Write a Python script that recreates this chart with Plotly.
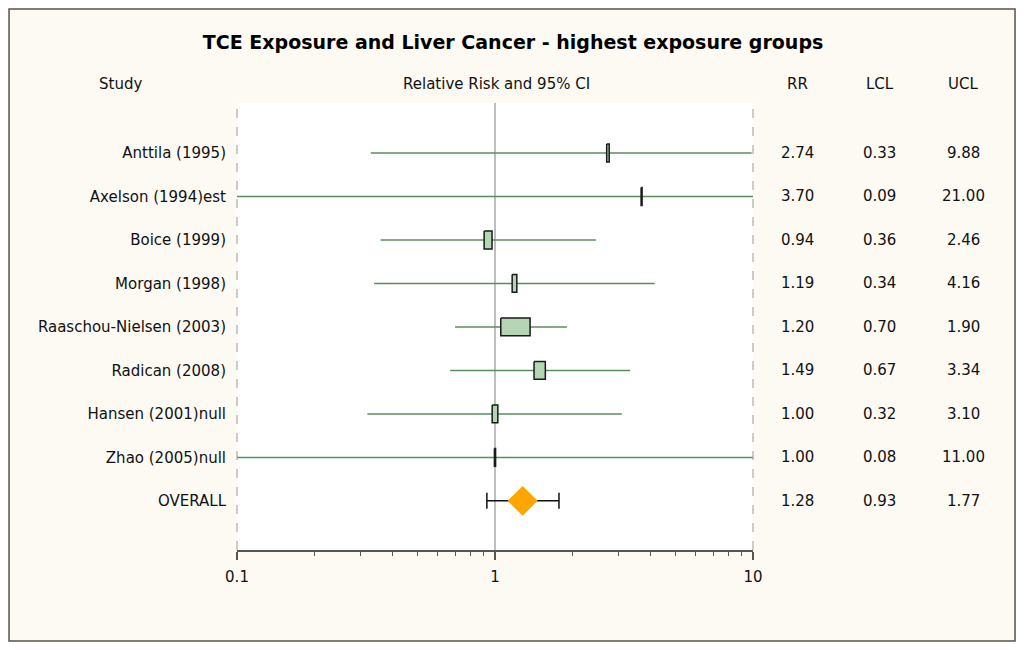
import math
import plotly.graph_objects as go

# study level estimates (relative risk and 95% CI)
studies = ["Anttila (1995)", "Axelson (1994)est", "Boice (1999)", "Morgan (1998)",
           "Raaschou-Nielsen (2003)", "Radican (2008)", "Hansen (2001)null", "Zhao (2005)null"]
rr = [2.74, 3.70, 0.94, 1.19, 1.20, 1.49, 1.00, 1.00]
lcl = [0.33, 0.09, 0.36, 0.34, 0.70, 0.67, 0.32, 0.08]
ucl = [9.88, 21.00, 2.46, 4.16, 1.90, 3.34, 3.10, 11.00]

# pooled estimate
overall_label = "OVERALL"
overall_rr = 1.28
overall_lcl = 0.93
overall_ucl = 1.77

x_ticks = [0.1, 1, 10]
col_headers = ["RR", "LCL", "UCL"]

FONT = "DejaVu Sans"
rows = list(range(1, len(studies) + 1))
overall_row = len(studies) + 1

fig = go.Figure()

# confidence interval lines
ci_x, ci_y = [], []
for r, lo, hi in zip(rows, lcl, ucl):
    ci_x += [lo, hi, None]
    ci_y += [r, r, None]
fig.add_trace(go.Scatter(x=ci_x, y=ci_y, mode="lines",
                         line=dict(color="#5a8e5a", width=1.5),
                         hoverinfo="skip", showlegend=False))

# boxes sized by inverse variance weight
box_x, box_y = [], []
for r, est, lo, hi in zip(rows, rr, lcl, ucl):
    se = (math.log(hi) - math.log(lo)) / 3.92
    w = 1 / se ** 2
    hw = 0.95 * w / 258  # half width in log10 units
    c = math.log10(est)
    x0, x1 = 10 ** (c - hw), 10 ** (c + hw)
    box_x += [x0, x1, x1, x0, x0, None]
    box_y += [r - 0.205, r - 0.205, r + 0.205, r + 0.205, r - 0.205, None]
fig.add_trace(go.Scatter(x=box_x, y=box_y, mode="lines", fill="toself",
                         fillcolor="#b4d6b4", line=dict(color="#1a1a1a", width=1.5),
                         hoverinfo="skip", showlegend=False))

# overall estimate
fig.add_trace(go.Scatter(
    x=[overall_rr], y=[overall_row], mode="markers",
    marker=dict(symbol="diamond", size=23, color="#ffa500", line=dict(width=0)),
    error_x=dict(type="data", symmetric=False,
                 array=[overall_ucl - overall_rr],
                 arrayminus=[overall_rr - overall_lcl],
                 color="#111111", thickness=1.5, width=8),
    hoverinfo="skip", showlegend=False))

shapes = [
    # outer frame
    dict(type="rect", xref="paper", yref="paper", x0=-0.4418, x1=1.5078, y0=-0.2036, y1=1.2105,
         fillcolor="#fcfaf3", line=dict(color="#5a5248", width=1.5), layer="below"),
    # white plotting region
    dict(type="rect", xref="paper", yref="paper", x0=0, x1=1, y0=0, y1=1,
         fillcolor="white", line=dict(width=0), layer="below"),
    # null line at RR = 1, behind the marks
    dict(type="line", xref="x", yref="paper", x0=1, x1=1, y0=0, y1=1,
         line=dict(color="#a8a8a8", width=1.5), layer="below"),
    # dashed side borders
    dict(type="line", xref="paper", yref="paper", x0=0, x1=0, y0=0, y1=1,
         line=dict(color="#9a9a9a", width=1, dash="dash")),
    dict(type="line", xref="paper", yref="paper", x0=1, x1=1, y0=0, y1=1,
         line=dict(color="#9a9a9a", width=1, dash="dash")),
]

annotations = []
hdr_y = 1.0425
hdr_font = dict(family=FONT, size=15, color="#111")
annotations.append(dict(text="Study", x=-0.2267, y=hdr_y, xref="paper", yref="paper",
                        xanchor="center", yanchor="middle", showarrow=False, font=hdr_font))
annotations.append(dict(text="Relative Risk and 95% CI", x=0.502, y=hdr_y, xref="paper", yref="paper",
                        xanchor="center", yanchor="middle", showarrow=False, font=hdr_font))
col_x = [1.0872, 1.2461, 1.407]
for cx, h in zip(col_x, col_headers):
    annotations.append(dict(text=h, x=cx, y=hdr_y, xref="paper", yref="paper",
                            xanchor="center", yanchor="middle", showarrow=False, font=hdr_font))

all_rows = rows + [overall_row]
cols = [rr + [overall_rr], lcl + [overall_lcl], ucl + [overall_ucl]]
for cx, vals in zip(col_x, cols):
    for r, v in zip(all_rows, vals):
        annotations.append(dict(text=f"{v:.2f}", x=cx, y=r, xref="paper", yref="y",
                                xanchor="center", yanchor="middle", showarrow=False,
                                font=dict(family=FONT, size=15, color="#111")))

fig.update_layout(
    width=1024, height=650,
    margin=dict(l=229, r=279, t=95, b=108),
    paper_bgcolor="white", plot_bgcolor="white",
    title=dict(text="TCE Exposure and Liver Cancer - highest exposure groups",
               x=0.535, xref="paper", xanchor="center", y=1 - 34 / 650, yanchor="middle",
               font=dict(family=FONT, size=19, color="#000", weight="bold")),
    shapes=shapes, annotations=annotations,
    xaxis=dict(type="log", range=[-1, 1], tickmode="array", tickvals=x_ticks,
               ticktext=[str(t) for t in x_ticks], showgrid=False, zeroline=False,
               showline=True, linecolor="#5a5550", linewidth=1.5,
               ticks="outside", ticklen=8, tickwidth=1.5, tickcolor="#5a5550",
               ticklabelstandoff=4,
               minor=dict(ticks="outside", ticklen=4, tickwidth=1, tickcolor="#5a5550",
                          dtick="D1", showgrid=False),
               tickfont=dict(family=FONT, size=15, color="#111")),
    yaxis=dict(range=[10.13, -0.15], tickmode="array", tickvals=all_rows,
               ticktext=studies + [overall_label], showgrid=False, zeroline=False,
               showline=False, ticks="", ticklabelstandoff=10,
               tickfont=dict(family=FONT, size=15, color="#111")),
)

fig.write_html("out.html")
